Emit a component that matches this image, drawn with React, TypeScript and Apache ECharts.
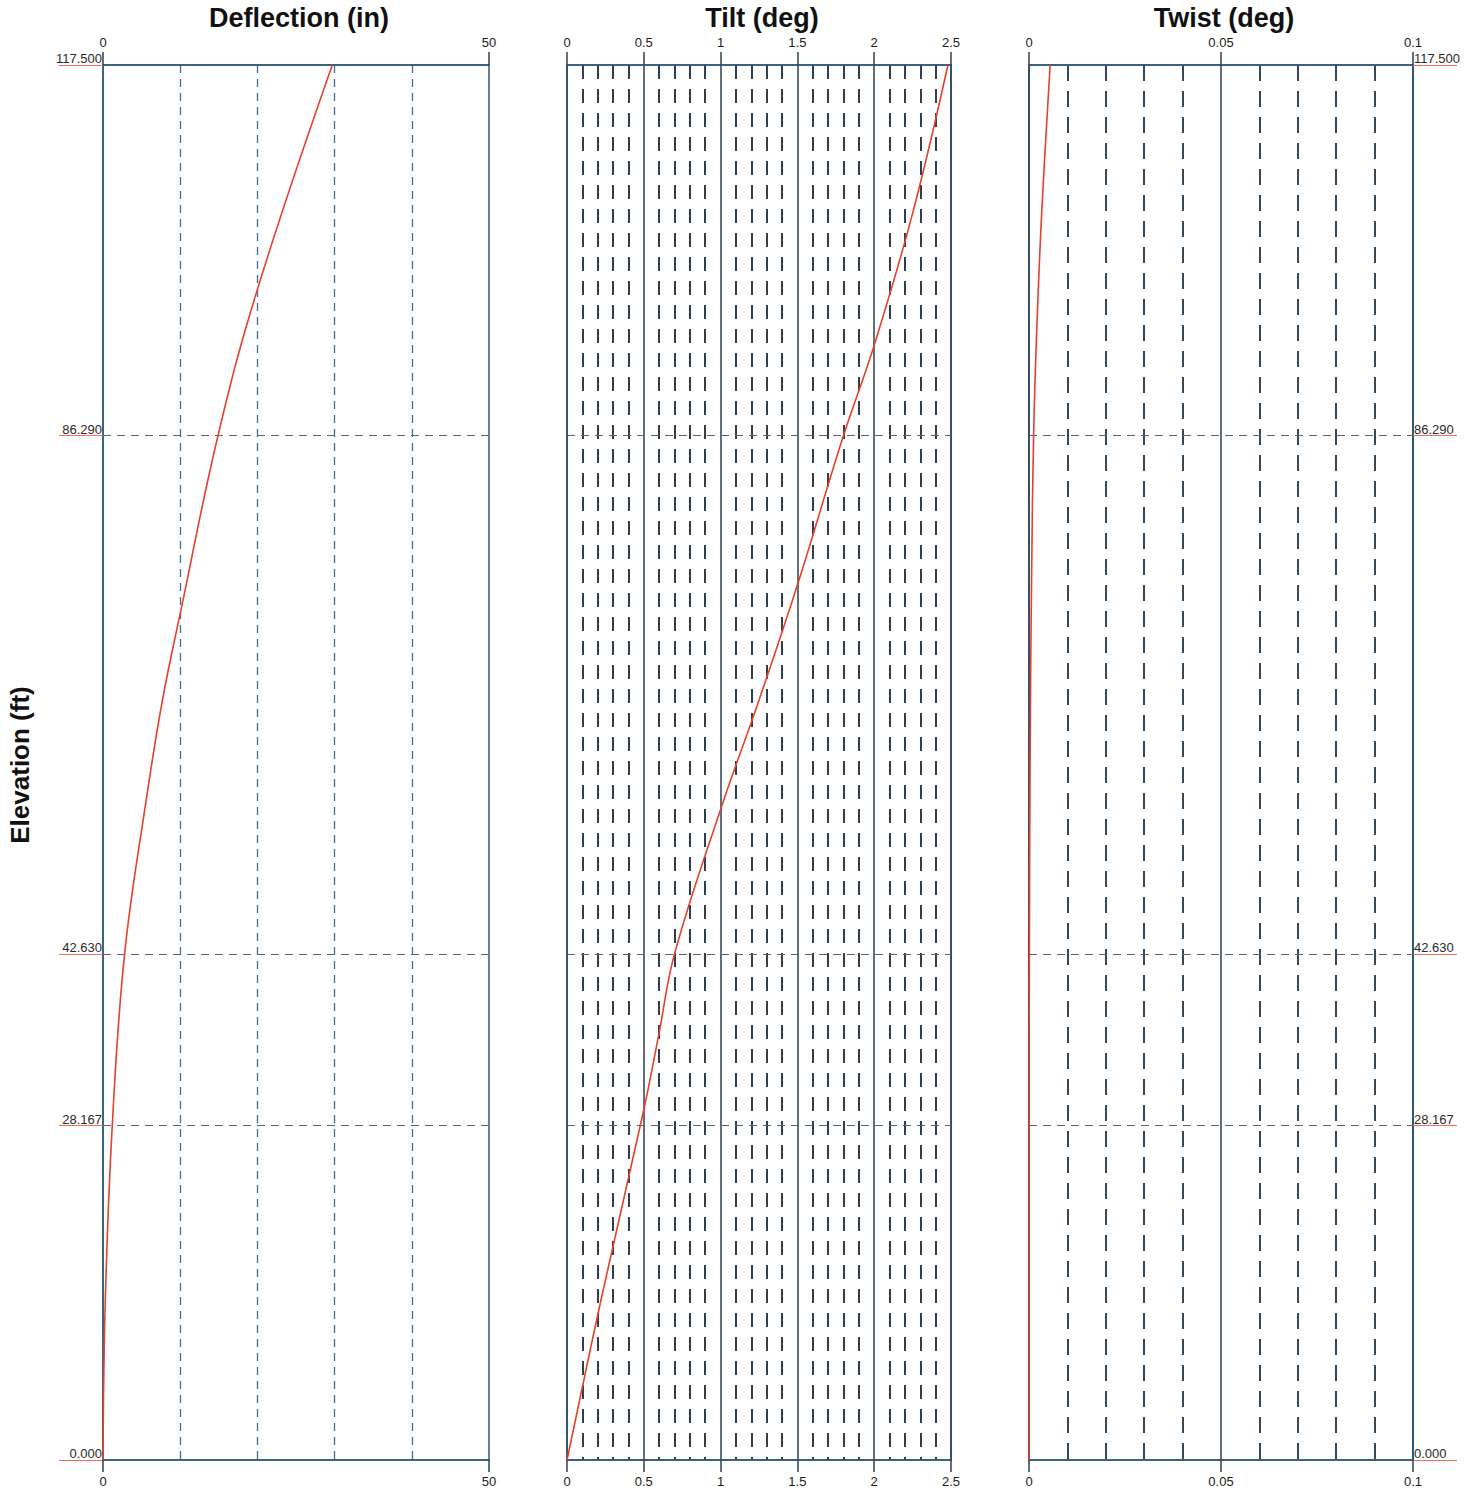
import React, { useEffect, useRef } from 'react';
import * as echarts from 'echarts';

// ---------- data ----------
const ELEVATION_TICKS = [0, 28.167, 42.63, 86.29, 117.5];
const ELEVATION_MARKS = [28.167, 42.63, 86.29];

const DEFL_ELEV = [0, 13.5, 28.167, 42.63, 55.6, 64, 71.6, 86.29, 98.6, 117.5];
const DEFLECTION = [0, 0.3, 1.2, 2.8, 5.6, 7.7, 10.1, 14.9, 20.0, 29.7];

const TILT_ELEV = [0, 14, 29.5, 36, 42.63, 54.8, 64, 73.7, 86.29, 93.9, 105, 117.5];
const TILT = [0, 0.23, 0.5, 0.6, 0.7, 1.0, 1.25, 1.5, 1.8, 2.0, 2.25, 2.48];

const TWIST_ELEV = [0, 28.167, 42.63, 60, 75, 86.29, 95, 105, 117.5];
const TWIST = [0, 0, 0.0001, 0.0003, 0.0007, 0.0012, 0.002, 0.0033, 0.0055];

const PANEL_TITLES = ['Deflection (in)', 'Tilt (deg)', 'Twist (deg)'];
const X_MAX = [50, 2.5, 0.1];
const X_INTERVAL = [50, 0.5, 0.05];
const ELEV_MAX = 117.5;
const Y_NAME = 'Elevation (ft)';

// ---------- styles ----------
const FONT = '"Liberation Sans", Arial, Helvetica, sans-serif';
const AXIS_COLOR = '#2f5a74';
const MAJOR_COLOR = '#2c3e50';
const MINOR_COLORS = ['#3d6e98', '#2f3f4f', '#34495c'];
const RED = '#e5412c';
const GRIDS = [
  { left: 103, width: 386 },
  { left: 567, width: 384 },
  { left: 1029, width: 384 },
];
const TOP = 65;
const HEIGHT = 1395;

function App() {
  const ref = useRef<HTMLDivElement>(null);

  useEffect(() => {
    if (!ref.current) return;
    const chart = echarts.init(ref.current, undefined, { renderer: 'svg' });

    const grid = GRIDS.map((g) => ({
      left: g.left,
      top: TOP,
      width: g.width,
      height: HEIGHT,
      show: true,
      borderColor: AXIS_COLOR,
      borderWidth: 1.5,
      backgroundColor: 'transparent',
    }));

    const xAxis: any[] = [];
    [0, 1, 2].forEach((i) => {
      ['top', 'bottom'].forEach((pos) => {
        xAxis.push({
          type: 'value',
          gridIndex: i,
          position: pos,
          min: 0,
          max: X_MAX[i],
          interval: X_INTERVAL[i],
          axisLine: { show: true, onZero: false, lineStyle: { color: AXIS_COLOR, width: 1.5 } },
          axisTick: { show: true, inside: false, length: pos === 'top' ? 13 : 12, lineStyle: { color: MAJOR_COLOR, width: 1.5 } },
          axisLabel: {
            show: true,
            margin: pos === 'top' ? 16 : 15,
            fontSize: 13,
            fontFamily: FONT,
            color: '#1a1a1a',
            showMinLabel: true,
            showMaxLabel: true,
          },
          splitLine: {
            show: pos === 'top' && i > 0,
            lineStyle: { color: MAJOR_COLOR, width: 1.5, type: 'solid' },
          },
          minorTick: { show: false, splitNumber: 5 },
          minorSplitLine: {
            show: pos === 'top',
            lineStyle: {
              color: MINOR_COLORS[i],
              width: i === 0 ? 1.3 : 2,
              type: i === 0 ? [8, 6] : i === 1 ? [14, 10] : [16, 10],
            },
          },
        });
      });
    });

    const yAxis: any[] = [0, 1, 2].map((i) => ({
      type: 'value',
      gridIndex: i,
      position: i === 2 ? 'right' : 'left',
      min: 0,
      max: ELEV_MAX,
      axisLine: { show: true, onZero: false, lineStyle: { color: AXIS_COLOR, width: 1.5 } },
      axisTick: {
        show: i !== 1,
        inside: false,
        customValues: ELEVATION_TICKS,
        length: 44,
        lineStyle: { color: '#ec6f62', width: 1.2 },
      },
      axisLabel: {
        show: i !== 1,
        customValues: ELEVATION_TICKS,
        formatter: (v: number) => v.toFixed(3),
        margin: 1,
        verticalAlign: 'bottom',
        fontSize: 13,
        fontFamily: FONT,
        color: '#2a2a2a',
      },
      splitLine: { show: false },
    }));

    const markLine = {
      silent: true,
      symbol: ['none', 'none'],
      label: { show: false },
      lineStyle: { type: [8, 6], color: '#5f6468', width: 1.2 },
      data: ELEVATION_MARKS.map((v) => ({ yAxis: v })),
    };

    const mk = (xs: number[], ys: number[], i: number) => ({
      type: 'line',
      xAxisIndex: 2 * i,
      yAxisIndex: i,
      data: xs.map((x, k) => [x, ys[k]]),
      smooth: 0.4,
      showSymbol: false,
      lineStyle: { color: RED, width: 1.6 },
      itemStyle: { color: RED },
      markLine,
      z: 5,
    });

    const graphic: any[] = PANEL_TITLES.map((t, i) => ({
      type: 'text',
      x: GRIDS[i].left + GRIDS[i].width / 2 + 3,
      y: 18,
      style: {
        text: t,
        font: `bold 27px ${FONT}`,
        fill: '#111',
        textAlign: 'center',
        textVerticalAlign: 'middle',
      },
    }));
    graphic.push({
      type: 'text',
      x: 20,
      y: 765,
      rotation: Math.PI / 2,
      style: {
        text: Y_NAME,
        font: `bold 26px ${FONT}`,
        fill: '#111',
        textAlign: 'center',
        textVerticalAlign: 'middle',
      },
    });

    chart.setOption({
      animation: false,
      backgroundColor: '#ffffff',
      grid,
      xAxis,
      yAxis,
      series: [mk(DEFLECTION, DEFL_ELEV, 0), mk(TILT, TILT_ELEV, 1), mk(TWIST, TWIST_ELEV, 2)],
      graphic,
    });

    return () => chart.dispose();
  }, []);

  return (
    <div
      ref={ref}
      style={{ position: 'absolute', left: 0, top: 0, width: 1481, height: 1494 }}
    />
  );
}

export default App;
